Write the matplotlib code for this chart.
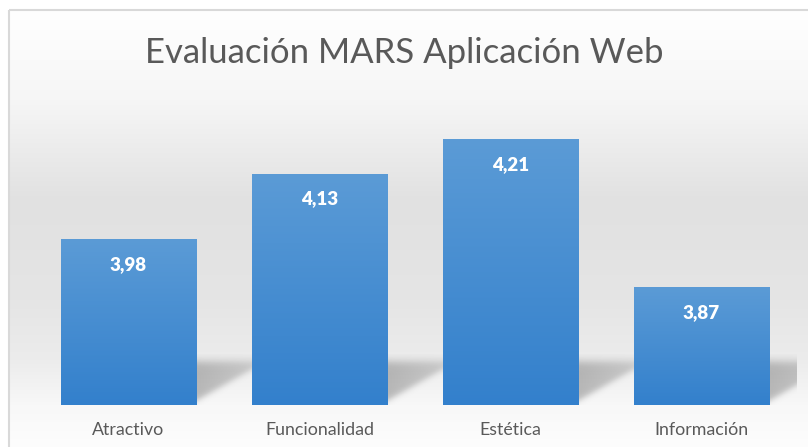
import numpy as np
import matplotlib.pyplot as plt
from matplotlib.colors import LinearSegmentedColormap
from matplotlib.patches import Rectangle

categorias = ['Atractivo', 'Funcionalidad', 'Estética', 'Información']
puntajes = [3.98, 4.13, 4.21, 3.87]
etiquetas = ['3,98', '4,13', '4,21', '3,87']
titulo = 'Evaluación MARS Aplicación Web'

plt.rcParams['font.family'] = ['Lato', 'DejaVu Sans']

W, H = 808, 447
fig = plt.figure(figsize=(W / 100, H / 100), dpi=100)

# fondo del grafico: degradado vertical gris claro
bg = fig.add_axes([0, 0, 1, 1], zorder=0)
bg.set_xlim(0, W)
bg.set_ylim(H, 0)
bg.axis('off')
yy = np.arange(10, H)
gris = np.interp(yy, [10, 100, 200, 300, 360, 405, 447],
                 [255, 246, 225, 229, 236, 248, 253]) / 255
fondo = np.repeat(gris[:, None], 3, axis=1)[:, None, :]
bg.imshow(fondo, extent=[9, W, H, 10], aspect='auto', interpolation='bilinear')
bg.add_patch(Rectangle((9, 10), W, H, fill=False, edgecolor='#d9d9d9', lw=1.5))
bg.set_xlim(0, W)
bg.set_ylim(H, 0)

fig.text(0.5, 1 - 53 / H, titulo, ha='center', va='center',
         fontsize=25, color='#595959')

ax = fig.add_axes([33 / W, 42 / H, 764 / W, 305 / H], zorder=1)
ax.patch.set_alpha(0)
ymin, ymax = 3.6, 4.3
x = np.arange(len(categorias))
ancho = 0.707

# sombra diagonal a la derecha de cada barra
hs, ws = 80, 80
u = np.linspace(0, 1, ws)[None, :]
t = np.linspace(1, 0, hs)[:, None]
borde_inf = 0.08 + 0.62 * u
alfa = 1 / (1 + np.exp(-(t - borde_inf) / 0.04))
alfa *= 1 / (1 + np.exp(-(0.86 - t) / 0.05))
alfa *= 0.25 * (1 - 0.3 * u)
sombra = np.zeros((hs, ws, 4))
sombra[..., 3] = alfa
for xi in x:
    der = xi + ancho / 2
    ax.imshow(sombra, extent=[der, der + 0.29, ymin, ymin + 0.115],
              aspect='auto', zorder=1.5, interpolation='bilinear')

barras = ax.bar(x, puntajes, width=ancho, color='#4a8ed4', zorder=2)

azul = LinearSegmentedColormap.from_list('azul', ['#3380cc', '#5b9bd6'])
grad = np.linspace(0, 1, 256)[::-1, None]
for b, v in zip(barras, puntajes):
    x0 = b.get_x()
    im = ax.imshow(grad, cmap=azul, extent=[x0, x0 + b.get_width(), ymin, v],
                   aspect='auto', zorder=2.1)
    im.set_clip_path(b)

for xi, v, et in zip(x, puntajes, etiquetas):
    ax.annotate(et, (xi, v), xytext=(0, -18), textcoords='offset points',
                ha='center', va='center', color='white', fontsize=13.5,
                fontweight='heavy', zorder=3)

ax.set_xlim(-0.5, len(categorias) - 0.5)
ax.set_ylim(ymin, ymax)
ax.set_xticks(x)
ax.set_xticklabels(categorias, fontsize=12.8, color='#595959')
ax.tick_params(axis='x', length=0, pad=12)
ax.set_yticks([])
for s in ax.spines.values():
    s.set_visible(False)

fig.savefig('out.png', dpi=100)
